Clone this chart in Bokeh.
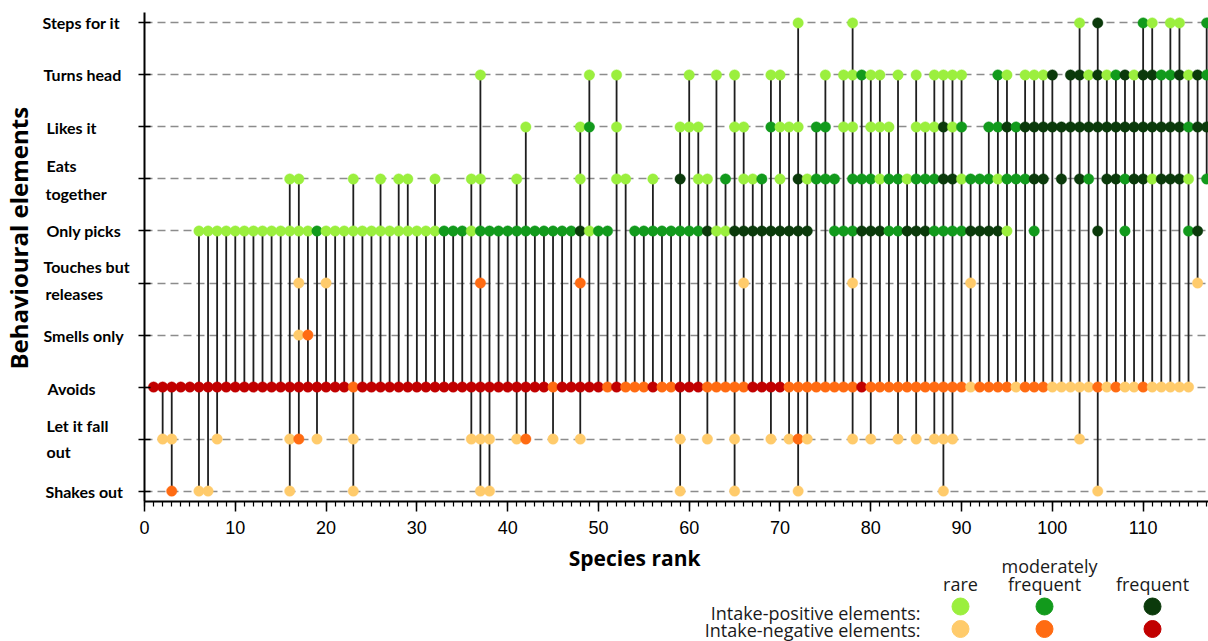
import math
from bokeh.plotting import figure
from bokeh.models import Range1d, FixedTicker, SingleIntervalTicker, ColumnDataSource
from bokeh.layouts import column, row
from bokeh.embed import file_html
from bokeh.resources import INLINE
from bokeh.core.properties import value

# ---------------- data ----------------
# behavioural elements, top to bottom
behaviours = ["Steps for it", "Turns head", "Likes it", "Eats together", "Only picks",
              "Touches but releases", "Smells only", "Avoids", "Let it fall out", "Shakes out"]
# how each label is broken into lines on the axis
behaviour_label_lines = [["Steps for it"], ["Turns head"], ["Likes it"], ["Eats", "together"],
                         ["Only picks"], ["Touches but", "releases"], ["Smells only"],
                         ["Avoids"], ["Let it fall", "out"], ["Shakes out"]]
# intake-positive (top five) / intake-negative (bottom five)
behaviour_sign = ["positive", "positive", "positive", "positive", "positive",
                  "negative", "negative", "negative", "negative", "negative"]

species_rank = list(range(1, 118))

# frequency code per species rank 1..117 (groups of ten):
# 0 = not shown, 1 = rare, 2 = moderately frequent, 3 = frequent
steps_for_it = ("0000000000 0000000000 0000000000 0000000000 0000000000 0000000000 "
                "0000000000 0100000100 0000000000 0000000000 0010300002 1011002")
turns_head = ("0000000000 0000000000 0000000000 0000001000 0000000010 0100000001 "
              "0010100011 0000101121 1010101111 0002101113 0331312313 3223132")
likes_it = ("0000000000 0000000000 0000000000 0000000000 0100000120 0100000011 "
            "1000110021 1102201101 1100111312 0022323333 3333333333 3333233")
eats_together = ("0000000000 0000011000 0010010110 0100011000 1000000100 0110010030 "
                 "1102011201 0312220222 1221222331 2221222330 3032033233 1333102")
only_picks = ("0000011111 1111111121 1111111111 1122212222 2222222312 2002222222 "
              "2311333333 3330022233 3223332222 3333100200 0000300200 0000230")
touches_but_releases = ("0000000000 0000001001 0000000000 0000002000 0000000200 0000000000 "
                        "0000010000 0000000100 0000000000 1000000000 0000000000 0000010")
smells_only = ("0000000000 0000001200 0000000000 0000000000 0000000000 0000000000 "
               "0000000000 0000000000 0000000000 0000000000 0000000000 0000000")
avoids = ("3333333333 3333333333 3323333333 3333333333 3333233333 2322232233 "
          "3222223333 2222222232 2222222222 1222212221 1111212112 1111100")
let_it_fall_out = ("0110000100 0000012010 0010000000 0000011100 1200100100 0000000010 "
                   "0100100010 1210000101 0010101110 0000000000 0010000000 0000000")
shakes_out = ("0020011000 0000010000 0010000000 0000001100 0000000000 0000000010 "
              "0000100000 0100000000 0000000100 0000000000 0000100000 0000000")

behaviour_codes = [steps_for_it, turns_head, likes_it, eats_together, only_picks,
                   touches_but_releases, smells_only, avoids, let_it_fall_out, shakes_out]

x_ticks = [0, 10, 20, 30, 40, 50, 60, 70, 80, 90, 100, 110]

frequency_names = [["rare"], ["moderately", "frequent"], ["frequent"]]
positive_colors = ["#9BEF3E", "#129A1C", "#0B3A0B"]
negative_colors = ["#FFCB6B", "#FF6B12", "#C10000"]
legend_rows = ["Intake-positive elements:", "Intake-negative elements:"]

# ---------------- build glyph data ----------------
rows = [[int(c) for c in s.replace(" ", "")] for s in behaviour_codes]
n_beh = len(behaviours)
levels = [n_beh - 1 - i for i in range(n_beh)]

px, py, pc = [], [], []
sx, sy0, sy1 = [], [], []
for j, sp in enumerate(species_rank):
    present = []
    for i in range(n_beh):
        code = rows[i][j]
        if code:
            pal = positive_colors if behaviour_sign[i] == "positive" else negative_colors
            px.append(sp)
            py.append(levels[i])
            pc.append(pal[code - 1])
            present.append(levels[i])
    if len(present) > 1:
        sx.append(sp)
        sy0.append(min(present))
        sy1.append(max(present))

# ---------------- layout constants (pixels) ----------------
H_MAIN = 542
TOP, BOTTOM = 12, 41
LAB_W = 132
yr = Range1d(-0.2, 9.2)
px_per_level = (H_MAIN - TOP - BOTTOM) / 9.4

# ---------------- main figure ----------------
p = figure(width=1208 - LAB_W, height=H_MAIN, x_range=Range1d(0, 117.2), y_range=yr,
           output_backend="svg", toolbar_location=None,
           min_border_left=12, min_border_right=0, min_border_top=TOP, min_border_bottom=BOTTOM)
p.outline_line_color = None

p.xgrid.visible = False
p.ygrid.ticker = FixedTicker(ticks=levels)
p.ygrid.grid_line_color = "#8c8c8c"
p.ygrid.grid_line_dash = "8 5"
p.ygrid.grid_line_width = 1.4

p.yaxis.ticker = FixedTicker(ticks=levels)
p.yaxis.major_label_overrides = {lv: "" for lv in levels}
p.yaxis.major_label_standoff = 0
p.yaxis.axis_line_width = 2
p.yaxis.axis_line_color = "black"
p.yaxis.major_tick_in = 6
p.yaxis.major_tick_out = 6
p.yaxis.major_tick_line_width = 1.5
p.yaxis.major_tick_line_color = "black"
p.yaxis.minor_tick_line_color = None

p.xaxis.ticker = SingleIntervalTicker(interval=10, num_minor_ticks=10)
p.xaxis.major_label_overrides = {t: str(t) for t in x_ticks}
p.xaxis.axis_line_width = 2
p.xaxis.axis_line_color = "black"
p.xaxis.major_tick_in = 0
p.xaxis.major_tick_out = 10
p.xaxis.minor_tick_in = 0
p.xaxis.minor_tick_out = 5
p.xaxis.major_tick_line_width = 1.5
p.xaxis.minor_tick_line_width = 1.2
p.xaxis.major_tick_line_color = "black"
p.xaxis.minor_tick_line_color = "black"
p.xaxis.major_label_standoff = 9
p.xaxis.major_label_text_font = "Liberation Sans"
p.xaxis.major_label_text_font_size = "18px"
p.xaxis.major_label_text_color = "black"

p.segment(x0=sx, y0=sy0, x1=sx, y1=sy1, line_color="#1e1e1e", line_width=1.8)
src = ColumnDataSource(dict(x=px, y=py, c=pc))
p.scatter("x", "y", source=src, size=10.5, fill_color="c", line_color="c", line_width=0.4)

# ---------------- y labels panel (left) ----------------
lab = figure(width=LAB_W, height=H_MAIN, x_range=Range1d(0, LAB_W), y_range=yr,
             output_backend="svg", toolbar_location=None,
             min_border_left=0, min_border_right=0, min_border_top=TOP, min_border_bottom=BOTTOM,
             x_axis_location=None, y_axis_location=None)
lab.grid.visible = False
lab.outline_line_color = None

# per-line left edge (px) and vertical offset (px, upwards) of the axis labels
label_x = [[42], [43], [46], [46, 45], [46], [43, 45], [43], [47], [46, 46], [45]]
label_dy = [[0], [0], [-1], [13, -15], [0], [17, -10], [0], [-1], [14, -12], [0]]
tx, ty, tt = [], [], []
for i, lines in enumerate(behaviour_label_lines):
    for k, t in enumerate(lines):
        tx.append(label_x[i][k])
        ty.append(levels[i] + label_dy[i][k] / px_per_level)
        tt.append(t)
lab.text(x=tx, y=ty, text=tt, text_font=value("Lato"), text_font_style="bold",
         text_font_size="16px", text_color="black", text_align="left", text_baseline="middle")

lab.text(x=[18], y=[4.86], text=["Behavioural elements"], angle=math.pi / 2,
         text_font=value("Open Sans"), text_font_style="bold", text_font_size="24px",
         text_color="black", text_align="center", text_baseline="middle")

# ---------------- legend / x title strip ----------------
H_LEG = 641 - H_MAIN
leg = figure(width=1208, height=H_LEG, x_range=Range1d(0, 1208), y_range=Range1d(641, H_MAIN),
             output_backend="svg", toolbar_location=None, min_border=0,
             x_axis_location=None, y_axis_location=None)
leg.grid.visible = False
leg.outline_line_color = None

leg.text(x=[700], y=[557.5], text=["Species rank"], text_font=value("Open Sans"),
         text_font_style="bold", text_font_size="21px", text_color="black",
         text_align="right", text_baseline="middle")

col_x = [960, 1044, 1152]
row_y = [606, 628.5]
lx, ly, lc = [], [], []
for r, pal in enumerate([positive_colors, negative_colors]):
    for k in range(3):
        lx.append(col_x[k])
        ly.append(row_y[r])
        lc.append(pal[k])
leg.scatter(x=lx, y=ly, size=17, fill_color=lc, line_color=lc)

hx, hy, ht = [], [], []
for k, parts in enumerate(frequency_names):
    for m, part in enumerate(reversed(parts)):
        hx.append(col_x[k] + (5 if m == 1 else 0))
        hy.append(583 - 17.5 * m)
        ht.append(part)
leg.text(x=hx, y=hy, text=ht, text_font=value("Open Sans"), text_font_size="18px",
         text_color="#1a1a1a", text_align="center", text_baseline="middle")

leg.text(x=[920, 920], y=[612.5, 629.5], text=legend_rows, text_font=value("Open Sans"),
         text_font_size="18px", text_color="#1a1a1a", text_align="right",
         text_baseline="middle")

layout = column(row(lab, p), leg)
open("out.html", "w").write(file_html(layout, INLINE))
